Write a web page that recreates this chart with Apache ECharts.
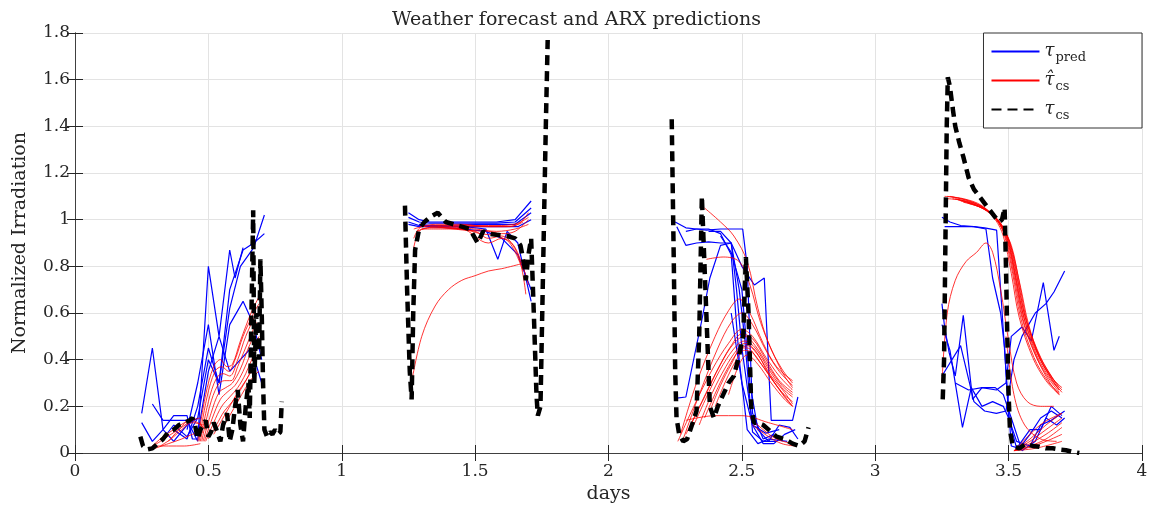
<!DOCTYPE html>
<html><head><meta charset="utf-8">
<script src="https://cdn.jsdelivr.net/npm/echarts@6/dist/echarts.min.js"></script>
<style>html,body{margin:0;padding:0;background:#fff}#c{width:1153px;height:510px}</style>
</head><body><div id="c"></div>
<script>
// ---------- DATA ----------
const xTicks = [0, 0.5, 1, 1.5, 2, 2.5, 3, 3.5, 4];
const yTicks = [0, 0.2, 0.4, 0.6, 0.8, 1, 1.2, 1.4, 1.6, 1.8];

// measured clear-sky index tau_cs (one array per day)
const tauCsDay0 = [[0.245,0.07],[0.255,0.03],[0.27,0.015],[0.29,0.02],[0.31,0.04],[0.33,0.06],[0.35,0.09],[0.37,0.1],[0.39,0.12],[0.41,0.13],[0.43,0.14],[0.44,0.15],[0.45,0.12],[0.46,0.06],[0.47,0.1],[0.49,0.14],[0.50,0.07],[0.51,0.09],[0.52,0.13],[0.53,0.1],[0.545,0.05],[0.555,0.12],[0.57,0.17],[0.58,0.05],[0.59,0.1],[0.6,0.2],[0.61,0.27],[0.62,0.12],[0.63,0.05],[0.64,0.2],[0.65,0.3],[0.655,0.15],[0.66,0.5],[0.668,1.04],[0.672,0.3],[0.68,0.6],[0.69,0.4],[0.695,0.83],[0.70,0.6],[0.705,0.3],[0.71,0.1],[0.72,0.07],[0.73,0.09],[0.74,0.08],[0.75,0.1],[0.76,0.08],[0.77,0.09],[0.775,0.22]];
const tauCsDay1 = [[1.237,1.06],[1.245,0.7],[1.255,0.35],[1.262,0.23],[1.268,0.6],[1.275,0.87],[1.29,0.96],[1.31,0.99],[1.33,1.01],[1.36,1.03],[1.39,0.99],[1.42,0.98],[1.45,0.97],[1.48,0.96],[1.5,0.92],[1.51,0.9],[1.53,0.95],[1.55,0.94],[1.58,0.935],[1.62,0.93],[1.65,0.92],[1.67,0.89],[1.685,0.8],[1.69,0.74],[1.70,0.85],[1.71,0.92],[1.72,0.6],[1.73,0.25],[1.735,0.16],[1.745,0.2],[1.755,0.8],[1.765,1.4],[1.772,1.77]];
const tauCsDay2 = [[2.237,1.43],[2.245,0.8],[2.25,0.35],[2.255,0.15],[2.265,0.08],[2.28,0.05],[2.295,0.06],[2.31,0.11],[2.33,0.18],[2.34,0.5],[2.35,1.1],[2.36,0.8],[2.37,0.5],[2.38,0.2],[2.395,0.15],[2.41,0.2],[2.43,0.25],[2.45,0.3],[2.47,0.33],[2.49,0.42],[2.505,0.5],[2.515,0.84],[2.525,0.6],[2.535,0.2],[2.545,0.13],[2.56,0.13],[2.58,0.12],[2.6,0.1],[2.63,0.07],[2.66,0.06],[2.69,0.04],[2.715,0.03],[2.735,0.05],[2.75,0.11]];
const tauCsDay3 = [[3.253,0.23],[3.258,0.4],[3.263,0.9],[3.268,1.4],[3.272,1.61],[3.28,1.57],[3.29,1.48],[3.30,1.4],[3.315,1.33],[3.33,1.27],[3.35,1.18],[3.37,1.13],[3.39,1.1],[3.41,1.07],[3.43,1.04],[3.45,1.01],[3.465,0.99],[3.475,1.0],[3.485,1.05],[3.49,0.8],[3.495,0.5],[3.5,0.25],[3.505,0.1],[3.515,0.03],[3.54,0.02],[3.565,0.04],[3.59,0.03],[3.615,0.027],[3.64,0.02],[3.665,0.02],[3.69,0.015],[3.715,0.012],[3.74,0.005],[3.765,0.0]];

// weather forecast tau_pred lines
const predLines = [
  [[0.25,0.17],[0.29,0.45],[0.33,0.1],[0.37,0.16],[0.42,0.16],[0.44,0.06],[0.46,0.06]],
  [[0.25,0.13],[0.29,0.05],[0.33,0.1],[0.37,0.05],[0.42,0.12],[0.46,0.15]],
  [[0.29,0.21],[0.33,0.14],[0.37,0.14],[0.42,0.14],[0.46,0.05],[0.5,0.8],[0.54,0.5],[0.58,0.87],[0.6,0.75],[0.63,0.88]],
  [[0.33,0.06],[0.37,0.12],[0.42,0.07],[0.46,0.15],[0.5,0.4],[0.54,0.3],[0.58,0.62],[0.62,0.8],[0.67,0.88],[0.71,1.02]],
  [[0.37,0.1],[0.42,0.06],[0.46,0.2],[0.5,0.45],[0.54,0.3],[0.58,0.7],[0.63,0.87],[0.67,0.9],[0.71,0.94]],
  [[0.42,0.1],[0.46,0.3],[0.5,0.55],[0.54,0.25],[0.58,0.55],[0.63,0.65],[0.67,0.55],[0.7,0.4]],
  [[0.46,0.08],[0.5,0.35],[0.54,0.5],[0.58,0.35],[0.62,0.4],[0.66,0.45],[0.7,0.3]],
  [[1.25,1.03],[1.29,1.0],[1.33,0.99],[1.42,0.99],[1.5,0.99],[1.58,0.99],[1.65,1.0],[1.71,1.08]],
  [[1.25,1.01],[1.29,0.99],[1.33,0.985],[1.42,0.985],[1.5,0.985],[1.58,0.985],[1.65,0.99],[1.71,1.05]],
  [[1.25,0.99],[1.29,0.975],[1.38,0.975],[1.5,0.98],[1.58,0.98],[1.65,0.98],[1.71,1.03]],
  [[1.25,0.98],[1.29,0.97],[1.38,0.97],[1.5,0.97],[1.6,0.97],[1.66,0.97],[1.71,1.0]],
  [[1.29,0.98],[1.38,0.97],[1.46,0.97],[1.54,0.96],[1.585,0.83],[1.62,0.95],[1.66,0.9],[1.71,0.65]],
  [[1.33,0.97],[1.46,0.96],[1.54,0.95],[1.6,0.92],[1.66,0.85],[1.71,0.7]],
  [[2.25,0.99],[2.29,0.965],[2.33,0.96],[2.367,0.955],[2.42,0.96],[2.46,0.96],[2.503,0.96],[2.52,0.8],[2.54,0.17],[2.58,0.06],[2.62,0.08]],
  [[2.256,0.97],[2.29,0.89],[2.33,0.9],[2.375,0.905],[2.42,0.9],[2.46,0.9],[2.49,0.7],[2.51,0.5],[2.54,0.09],[2.58,0.05],[2.63,0.05]],
  [[2.256,0.235],[2.29,0.24],[2.35,0.57],[2.38,0.75],[2.42,0.89],[2.46,0.9],[2.48,0.7],[2.5,0.45],[2.54,0.12],[2.59,0.085],[2.64,0.1]],
  [[2.29,0.95],[2.33,0.96],[2.375,0.96],[2.42,0.94],[2.46,0.85],[2.49,0.4],[2.52,0.1],[2.56,0.04],[2.6,0.06],[2.67,0.05]],
  [[2.375,0.95],[2.42,0.95],[2.46,0.9],[2.5,0.8],[2.547,0.72],[2.584,0.75],[2.61,0.14],[2.65,0.14],[2.69,0.14],[2.71,0.24]],
  [[2.42,0.93],[2.46,0.86],[2.5,0.7],[2.53,0.3],[2.56,0.1],[2.6,0.05],[2.64,0.12],[2.68,0.11],[2.71,0.06]],
  [[2.46,0.6],[2.5,0.3],[2.54,0.12],[2.58,0.04],[2.62,0.04],[2.66,0.08],[2.7,0.1]],
  [[3.25,1.01],[3.28,0.99],[3.32,0.975],[3.37,0.97],[3.41,0.965],[3.455,0.955],[3.47,0.7],[3.49,0.35],[3.51,0.03],[3.54,0.02],[3.58,0.08],[3.62,0.15],[3.66,0.18],[3.7,0.15]],
  [[3.26,0.97],[3.3,0.97],[3.37,0.97],[3.415,0.96],[3.44,0.75],[3.47,0.6],[3.485,0.45],[3.5,0.15],[3.53,0.02],[3.58,0.1],[3.62,0.1],[3.66,0.2],[3.7,0.16]],
  [[3.25,0.64],[3.26,0.54],[3.277,0.43],[3.3,0.33],[3.33,0.59],[3.365,0.23],[3.4,0.28],[3.454,0.27],[3.49,0.3],[3.51,0.5],[3.55,0.54],[3.585,0.48],[3.63,0.73],[3.67,0.44],[3.69,0.5]],
  [[3.25,0.55],[3.28,0.44],[3.327,0.11],[3.36,0.28],[3.4,0.2],[3.44,0.22],[3.48,0.2],[3.5,0.15],[3.53,0.05],[3.58,0.03],[3.62,0.12],[3.66,0.14],[3.71,0.18]],
  [[3.25,0.33],[3.32,0.46],[3.37,0.22],[3.41,0.18],[3.454,0.17],[3.49,0.18],[3.52,0.4],[3.55,0.5],[3.6,0.6],[3.64,0.64],[3.67,0.69],[3.71,0.78]],
  [[3.3,0.3],[3.35,0.27],[3.4,0.28],[3.45,0.28],[3.48,0.25],[3.51,0.15],[3.55,0.01],[3.6,0.05],[3.64,0.15],[3.68,0.12],[3.71,0.15]]
];

// ARX predictions tau_cs hat
const arxLines = [
  [[0.28,0.02],[0.32,0.05],[0.36,0.08],[0.4,0.11],[0.44,0.14],[0.47,0.15]],
  [[0.29,0.03],[0.33,0.07],[0.37,0.1],[0.41,0.13],[0.45,0.15]],
  [[0.3,0.02],[0.35,0.04],[0.4,0.06],[0.44,0.08],[0.48,0.09]],
  [[0.29,0.03],[0.35,0.03],[0.41,0.03],[0.47,0.04]],
  [[0.32,0.03],[0.36,0.06],[0.4,0.1],[0.44,0.13],[0.48,0.12]],
  [[0.35,0.05],[0.39,0.1],[0.43,0.14],[0.46,0.13],[0.49,0.1]],
  [[0.46,0.05],[0.49,0.25],[0.52,0.37],[0.545,0.4],[0.57,0.37],[0.59,0.38],[0.62,0.48],[0.66,0.6],[0.69,0.67]],
  [[0.465,0.05],[0.495,0.24],[0.525,0.35],[0.55,0.37],[0.575,0.35],[0.6,0.4],[0.63,0.5],[0.67,0.6],[0.69,0.64]],
  [[0.47,0.05],[0.5,0.22],[0.53,0.32],[0.555,0.34],[0.58,0.33],[0.61,0.4],[0.64,0.5],[0.68,0.6]],
  [[0.475,0.05],[0.505,0.2],[0.535,0.29],[0.56,0.31],[0.585,0.31],[0.61,0.37],[0.65,0.48],[0.68,0.56]],
  [[0.48,0.05],[0.51,0.17],[0.54,0.26],[0.565,0.28],[0.59,0.3],[0.62,0.36],[0.65,0.45],[0.69,0.55]],
  [[0.485,0.05],[0.515,0.15],[0.545,0.23],[0.57,0.26],[0.6,0.29],[0.63,0.35],[0.66,0.43],[0.69,0.5]],
  [[0.49,0.05],[0.52,0.13],[0.55,0.2],[0.58,0.24],[0.61,0.28],[0.64,0.34],[0.67,0.42],[0.69,0.46]],
  [[0.5,0.06],[0.53,0.12],[0.56,0.18],[0.59,0.22],[0.62,0.27],[0.65,0.33],[0.68,0.4]],
  [[0.52,0.08],[0.55,0.14],[0.58,0.2],[0.61,0.26],[0.64,0.31],[0.67,0.37]],
  [[0.55,0.1],[0.58,0.16],[0.61,0.22],[0.64,0.28],[0.67,0.33],[0.69,0.35]],
  [[1.263,0.31],[1.3,0.5],[1.35,0.63],[1.4,0.7],[1.45,0.74],[1.5,0.76],[1.55,0.78],[1.6,0.79],[1.67,0.81]],
  [[1.27,0.88],[1.3,0.96],[1.4,0.97],[1.5,0.97],[1.6,0.97],[1.66,0.98],[1.7,1.03]],
  [[1.27,0.92],[1.3,0.97],[1.4,0.975],[1.5,0.975],[1.6,0.975],[1.66,0.985],[1.7,1.01]],
  [[1.28,0.95],[1.33,0.965],[1.45,0.96],[1.55,0.9],[1.6,0.92],[1.65,0.88],[1.7,0.72]],
  [[1.3,0.96],[1.4,0.96],[1.5,0.95],[1.55,0.92],[1.6,0.93],[1.66,0.85],[1.69,0.68]],
  [[1.33,0.97],[1.45,0.96],[1.52,0.94],[1.58,0.93],[1.63,0.9],[1.68,0.78]],
  [[1.36,0.97],[1.46,0.955],[1.55,0.95],[1.6,0.94],[1.65,0.95],[1.7,1.0]],
  [[1.4,0.97],[1.5,0.96],[1.58,0.95],[1.65,0.96],[1.7,0.98]],
  [[1.27,0.96],[1.35,0.98],[1.45,0.98],[1.55,0.97],[1.63,0.97],[1.68,0.99]],
  [[2.36,1.05],[2.42,0.99],[2.47,0.93],[2.52,0.82],[2.56,0.62],[2.6,0.47],[2.65,0.36],[2.69,0.3]],
  [[2.367,0.83],[2.43,0.84],[2.49,0.82],[2.53,0.72],[2.57,0.56],[2.62,0.42],[2.66,0.33],[2.69,0.28]],
  [[2.27,0.08],[2.33,0.3],[2.4,0.5],[2.45,0.61],[2.49,0.66],[2.53,0.6],[2.58,0.47],[2.63,0.37],[2.69,0.31]],
  [[2.28,0.06],[2.34,0.25],[2.41,0.45],[2.46,0.56],[2.5,0.6],[2.54,0.55],[2.59,0.44],[2.64,0.35],[2.69,0.29]],
  [[2.26,0.05],[2.32,0.2],[2.39,0.36],[2.45,0.47],[2.5,0.53],[2.54,0.5],[2.59,0.41],[2.64,0.33],[2.69,0.27]],
  [[2.29,0.08],[2.35,0.22],[2.41,0.36],[2.46,0.46],[2.5,0.51],[2.54,0.49],[2.59,0.4],[2.64,0.31],[2.69,0.26]],
  [[2.3,0.1],[2.36,0.24],[2.42,0.38],[2.47,0.47],[2.51,0.5],[2.55,0.46],[2.6,0.37],[2.65,0.29],[2.69,0.25]],
  [[2.32,0.12],[2.38,0.27],[2.43,0.38],[2.48,0.46],[2.51,0.48],[2.55,0.45],[2.6,0.36],[2.65,0.28],[2.69,0.24]],
  [[2.34,0.12],[2.39,0.26],[2.44,0.37],[2.48,0.44],[2.51,0.47],[2.55,0.44],[2.6,0.34],[2.65,0.26],[2.69,0.22]],
  [[2.36,0.15],[2.41,0.28],[2.45,0.37],[2.49,0.44],[2.52,0.46],[2.56,0.42],[2.61,0.33],[2.66,0.26],[2.69,0.21]],
  [[2.38,0.18],[2.42,0.29],[2.46,0.38],[2.5,0.45],[2.52,0.45],[2.56,0.4],[2.61,0.32],[2.66,0.24],[2.69,0.2]],
  [[2.4,0.2],[2.44,0.31],[2.48,0.4],[2.51,0.44],[2.54,0.43],[2.58,0.37],[2.63,0.29],[2.69,0.2]],
  [[2.29,0.14],[2.4,0.16],[2.5,0.16],[2.6,0.13],[2.69,0.1]],
  [[2.45,0.25],[2.49,0.38],[2.52,0.42],[2.56,0.38],[2.61,0.3],[2.66,0.23],[2.69,0.2]],
  [[2.53,0.15],[2.58,0.1],[2.63,0.06],[2.69,0.04]],
  [[2.54,0.12],[2.6,0.07],[2.65,0.04],[2.7,0.03]],
  [[3.26,1.10],[3.33,1.09],[3.40,1.06],[3.45,1.0],[3.48,0.93],[3.51,0.77],[3.54,0.58],[3.59,0.41],[3.64,0.31],[3.69,0.25]],
  [[3.27,1.10],[3.34,1.085],[3.40,1.055],[3.455,1.0],[3.485,0.93],[3.515,0.77],[3.545,0.58],[3.595,0.41],[3.645,0.31],[3.69,0.255]],
  [[3.28,1.10],[3.35,1.08],[3.41,1.05],[3.46,0.99],[3.49,0.92],[3.52,0.76],[3.55,0.58],[3.6,0.42],[3.65,0.32],[3.69,0.26]],
  [[3.29,1.09],[3.35,1.075],[3.41,1.045],[3.465,0.99],[3.495,0.92],[3.525,0.76],[3.555,0.59],[3.605,0.42],[3.655,0.32],[3.69,0.27]],
  [[3.30,1.09],[3.36,1.07],[3.42,1.04],[3.47,0.985],[3.5,0.91],[3.53,0.76],[3.56,0.59],[3.61,0.43],[3.66,0.33],[3.69,0.28]],
  [[3.31,1.085],[3.37,1.065],[3.42,1.035],[3.465,0.985],[3.5,0.9],[3.53,0.74],[3.56,0.57],[3.61,0.42],[3.66,0.32],[3.69,0.27]],
  [[3.32,1.08],[3.38,1.06],[3.43,1.03],[3.47,0.98],[3.505,0.9],[3.535,0.74],[3.565,0.57],[3.615,0.41],[3.665,0.31],[3.7,0.26]],
  [[3.33,1.075],[3.39,1.055],[3.43,1.03],[3.47,0.98],[3.51,0.89],[3.54,0.73],[3.57,0.56],[3.62,0.41],[3.665,0.32],[3.7,0.28]],
  [[3.35,1.07],[3.4,1.05],[3.44,1.02],[3.475,0.975],[3.51,0.88],[3.545,0.71],[3.575,0.55],[3.62,0.4],[3.67,0.31],[3.7,0.27]],
  [[3.27,1.09],[3.34,1.08],[3.41,1.05],[3.46,0.995],[3.495,0.91],[3.525,0.75],[3.555,0.57],[3.605,0.41],[3.655,0.3],[3.69,0.25]],
  [[3.25,0.3],[3.27,0.6],[3.3,0.74],[3.34,0.82],[3.38,0.86],[3.415,0.9],[3.44,0.86],[3.47,0.7],[3.5,0.48],[3.53,0.3],[3.57,0.22],[3.62,0.2],[3.67,0.2]],
  [[3.49,0.5],[3.52,0.25],[3.56,0.12],[3.62,0.06],[3.68,0.05]],
  [[3.52,0.01],[3.58,0.06],[3.64,0.12],[3.7,0.17]],
  [[3.52,0.01],[3.58,0.05],[3.64,0.1],[3.7,0.15]],
  [[3.52,0.01],[3.58,0.04],[3.64,0.08],[3.7,0.13]],
  [[3.52,0.01],[3.58,0.03],[3.64,0.06],[3.7,0.11]],
  [[3.52,0.01],[3.58,0.025],[3.64,0.05],[3.7,0.08]],
  [[3.52,0.01],[3.6,0.02],[3.7,0.05]],
  [[3.53,0.02],[3.58,0.08],[3.63,0.13],[3.68,0.16],[3.7,0.17]]
];

// ---------- CHART ----------
const FONT = 'DejaVu Serif';
const TXT = '#262626';
const NAME_PRED = 'pred', NAME_ARX = 'arx', NAME_CS = 'cs';

const series = [];
predLines.forEach(d => series.push({
  name: NAME_PRED, type: 'line', data: d, symbol: 'none', silent: true,
  lineStyle: { color: '#0000ff', width: 1.2 }, itemStyle: { color: '#0000ff' }, z: 2
}));
arxLines.forEach(d => series.push({
  name: NAME_ARX, type: 'line', data: d, symbol: 'none', smooth: 0.35, silent: true,
  lineStyle: { color: '#ff0000', width: 0.8 }, itemStyle: { color: '#ff0000' }, z: 3
}));
[tauCsDay0, tauCsDay1, tauCsDay2, tauCsDay3].forEach(d => series.push({
  name: NAME_CS, type: 'line', data: d, symbol: 'none', silent: true,
  lineStyle: { color: '#000', width: 4.5, type: [10, 6], cap: 'butt' }, itemStyle: { color: '#000' }, z: 4
}));

const axisCommon = {
  type: 'value',
  axisLine: { show: true, lineStyle: { color: '#404040', width: 1 } },
  axisTick: { show: true, inside: true, length: 8, lineStyle: { color: '#262626' } },
  splitLine: { show: false },
  axisLabel: { show: false }
};

const chart = echarts.init(document.getElementById('c'));
chart.setOption({
  animation: false,
  backgroundColor: '#fff',
  title: {
    text: 'Weather forecast and ARX predictions',
    left: 'center', top: 6,
    textStyle: { fontFamily: FONT, fontSize: 19, fontWeight: 'normal', color: TXT }
  },
  grid: { left: 75, right: 11, top: 33, bottom: 57 },
  legend: {
    data: [NAME_PRED, NAME_ARX, NAME_CS],
    orient: 'vertical', right: 11, top: 33,
    itemWidth: 48, itemHeight: 14, itemGap: 4,
    padding: [6, 56, 6, 7],
    backgroundColor: '#fff', borderColor: '#333', borderWidth: 1,
    itemStyle: { opacity: 0 },
    formatter: n => n === NAME_PRED ? '{t|τ}{s|pred}' : n === NAME_ARX ? '{t|τ\u0302}{s|cs}' : '{t|τ}{s|cs}',
    textStyle: {
      color: TXT, fontFamily: FONT,
      rich: {
        t: { fontFamily: FONT, fontStyle: 'italic', fontSize: 18, color: TXT, lineHeight: 20 },
        s: { fontFamily: FONT, fontSize: 13, color: TXT, lineHeight: 13, padding: [12, 0, 0, 1] }
      }
    }
  },
  xAxis: [
    Object.assign({}, axisCommon, {
      min: 0, max: 4, interval: 0.5, position: 'bottom',
      splitLine: { show: true, lineStyle: { color: '#e3e3e3', width: 1 } },
      axisLabel: { show: true, fontFamily: FONT, fontSize: 17, color: TXT, margin: 10, formatter: v => String(v) },
      name: 'days', nameLocation: 'middle', nameGap: 32,
      nameTextStyle: { fontFamily: FONT, fontSize: 19, color: TXT }
    }),
    Object.assign({}, axisCommon, { min: 0, max: 4, interval: 0.5, position: 'top' })
  ],
  yAxis: [
    Object.assign({}, axisCommon, {
      min: 0, max: 1.8, interval: 0.2, position: 'left',
      splitLine: { show: true, lineStyle: { color: '#e3e3e3', width: 1 } },
      axisLabel: { show: true, fontFamily: FONT, fontSize: 17, color: TXT, margin: 5, formatter: v => String(+v.toFixed(1)) },
      name: 'Normalized Irradiation', nameLocation: 'middle', nameGap: 45, nameRotate: 90,
      nameTextStyle: { fontFamily: FONT, fontSize: 19, color: TXT }
    }),
    Object.assign({}, axisCommon, { min: 0, max: 1.8, interval: 0.2, position: 'right' })
  ],
  series: series
});
</script></body></html>
